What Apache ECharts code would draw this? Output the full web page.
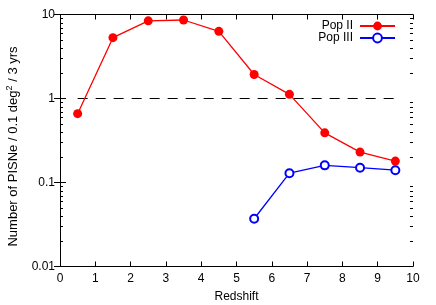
<!DOCTYPE html>
<html><head><meta charset="utf-8">
<script src="https://cdn.jsdelivr.net/npm/echarts@6/dist/echarts.min.js"></script>
<style>html,body{margin:0;padding:0;background:#fff}#c{width:436px;height:305px}</style>
</head><body><div id="c"></div>
<script>
var redshift = [0.5, 1.5, 2.5, 3.5, 4.5, 5.5, 6.5, 7.5, 8.5, 9.5];
var popII = [0.66, 5.3, 8.4, 8.6, 6.3, 1.93, 1.12, 0.39, 0.23, 0.18];
var popIIIz = [5.5, 6.5, 7.5, 8.5, 9.5];
var popIII = [0.037, 0.129, 0.16, 0.15, 0.14];
var refZ = [0.5, 9.5];
var refVal = [1, 1];
var minorVals = [];
[0.01, 0.1, 1].forEach(function (d) { for (var k = 2; k <= 9; k++) minorVals.push(d * k); });

var font = 'Liberation Sans, Arial, sans-serif';
var chart = echarts.init(document.getElementById('c'));
chart.setOption({
  animation: false,
  grid: { left: 60, right: 23, top: 14.5, bottom: 38.5, outerBoundsMode: 'none', containLabel: false },
  legend: {
    orient: 'vertical', right: 35, top: 15, align: 'right',
    itemWidth: 35, itemHeight: 11, itemGap: 0,
    textStyle: { fontFamily: font, fontSize: 12, color: '#000', padding: [0, 2, 0, 0] },
    data: ['Pop II', 'Pop III']
  },
  xAxis: [{
    type: 'value', min: 0, max: 10, interval: 1,
    name: 'Redshift', nameLocation: 'middle', nameGap: 24,
    nameTextStyle: { fontFamily: font, fontSize: 12, color: '#000' },
    axisLine: { lineStyle: { color: '#000', width: 1 } },
    axisTick: { inside: true, length: 5, lineStyle: { color: '#000' } },
    axisLabel: { fontFamily: font, fontSize: 12, color: '#000', margin: 6 },
    splitLine: { show: false }
  }, {
    type: 'value', min: 0, max: 10, interval: 1, position: 'top',
    axisLine: { lineStyle: { color: '#000', width: 1 } },
    axisTick: { inside: true, length: 5, lineStyle: { color: '#000' } },
    axisLabel: { show: false }, splitLine: { show: false }
  }],
  yAxis: [{
    type: 'log', logBase: 10, min: 0.01, max: 10,
    name: 'Number of PISNe / 0.1 deg{sup|2} / 3 yrs', nameLocation: 'middle', nameGap: 38,
    nameTextStyle: { fontFamily: font, fontSize: 13, color: '#000', padding: [0, 12, 0, 0],
      rich: { sup: { fontFamily: font, fontSize: 9, verticalAlign: 'top', padding: [0, 0, 8, 0], color: '#000' } } },
    axisLine: { show: true, lineStyle: { color: '#000', width: 1 } },
    axisTick: { inside: true, length: 6, lineStyle: { color: '#000' } },
    axisLabel: { fontFamily: font, fontSize: 12, color: '#000', margin: 5,
      formatter: function (v) { return String(+v.toPrecision(3)); } },
    splitLine: { show: false }
  }, {
    type: 'log', logBase: 10, min: 0.01, max: 10, position: 'right',
    axisLine: { show: true, lineStyle: { color: '#000', width: 1 } },
    axisTick: { inside: true, length: 6, lineStyle: { color: '#000' } },
    axisLabel: { show: false }, splitLine: { show: false }
  }],
  series: [{
    name: 'ref', type: 'line', data: refZ.map(function (z, i) { return [z, refVal[i]]; }),
    symbol: 'none', lineStyle: { color: '#000', width: 1, type: [10, 8] }, silent: true, z: 1
  }, {
    name: 'Pop II', type: 'line', data: redshift.map(function (z, i) { return [z, popII[i]]; }),
    symbol: 'circle', symbolSize: 9, itemStyle: { color: '#ff0000' },
    lineStyle: { color: '#ff0000', width: 1.3 }, z: 3
  }, {
    name: 'Pop III', type: 'line', data: popIIIz.map(function (z, i) { return [z, popIII[i]]; }),
    symbol: 'emptyCircle', symbolSize: 8, itemStyle: { color: '#0000ff', borderWidth: 1.3 },
    lineStyle: { color: '#0000ff', width: 1.3 }, z: 3
  }, {
    name: 'minor', type: 'custom', silent: true, z: 2,
    data: minorVals.map(function (v) { return [0, v]; }),
    renderItem: function (params, api) {
      var p0 = api.coord([0, api.value(1)]);
      var p1 = api.coord([10, api.value(1)]);
      var y = Math.round(p0[1]) + 0.5;
      return { type: 'group', children: [
        { type: 'line', shape: { x1: p0[0], y1: y, x2: p0[0] + 3, y2: y }, style: { stroke: '#000', lineWidth: 1 } },
        { type: 'line', shape: { x1: p1[0], y1: y, x2: p1[0] - 3, y2: y }, style: { stroke: '#000', lineWidth: 1 } }
      ] };
    }
  }]
});
</script></body></html>
